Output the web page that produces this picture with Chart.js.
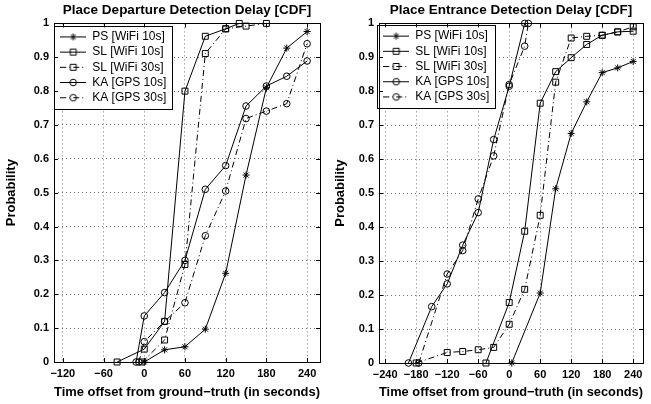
<!DOCTYPE html>
<html>
<head>
<meta charset="utf-8">
<script src="https://cdn.jsdelivr.net/npm/chart.js@4.4.1/dist/chart.umd.min.js"></script>
<style>
  html, body { margin: 0; padding: 0; background: #fff; }
  #wrap { position: relative; width: 651px; height: 404px; }
  canvas { position: absolute; top: 0; }
  #departure { left: 0; }
  #entrance { left: 326px; }
</style>
</head>
<body>
<div id="wrap">
  <canvas id="departure" width="326" height="404"></canvas>
  <canvas id="entrance" width="325" height="404"></canvas>
</div>
<script>
const seriesNames = ['PS [WiFi 10s]', 'SL [WiFi 10s]', 'SL [WiFi 30s]', 'KA [GPS 10s]', 'KA [GPS 30s]'];
const yTicks = [0, 0.1, 0.2, 0.3, 0.4, 0.5, 0.6, 0.7, 0.8, 0.9, 1];
const departureTicks = [-120, -60, 0, 60, 120, 180, 240];
const entranceTicks = [-240, -180, -120, -60, 0, 60, 120, 180, 240];

// place departure: offset in seconds / cumulative probability
const depPsX = [0, 30, 60, 90, 120, 150, 180, 210, 240];
const depPsY = [0, 0.036, 0.045, 0.097, 0.262, 0.552, 0.81, 0.927, 0.976];
const depSl10X = [-40, 0, 30, 60, 90, 120, 140];
const depSl10Y = [0, 0.038, 0.12, 0.80, 0.962, 0.984, 1.0];
const depSl30X = [-3, 30, 60, 90, 120, 150, 180];
const depSl30Y = [0, 0.065, 0.288, 0.911, 0.984, 0.992, 1.0];
const depKa10X = [-12, 0, 30, 60, 90, 120, 150, 180, 210, 240];
const depKa10Y = [0, 0.136, 0.205, 0.30, 0.51, 0.58, 0.756, 0.815, 0.844, 0.889];
const depKa30X = [-8, 0, 30, 60, 90, 120, 150, 180, 210, 240];
const depKa30Y = [0, 0.06, 0.12, 0.175, 0.373, 0.505, 0.719, 0.741, 0.763, 0.94];

// place entrance
const entPsX = [5, 60, 90, 120, 150, 180, 210, 240];
const entPsY = [0, 0.206, 0.513, 0.676, 0.769, 0.855, 0.869, 0.888];
const entSl10X = [-45, 0, 30, 60, 90, 120, 150, 180, 210, 240];
const entSl10Y = [0, 0.178, 0.388, 0.765, 0.858, 0.899, 0.938, 0.965, 0.975, 0.977];
const entSl30X = [-180, -120, -90, -60, -30, 0, 30, 60, 90, 120, 150, 180, 210, 240];
const entSl30Y = [0, 0.031, 0.034, 0.039, 0.046, 0.114, 0.217, 0.435, 0.827, 0.957, 0.962, 0.965, 0.975, 0.99];
const entKa10X = [-195, -150, -120, -90, -60, -30, 0, 30];
const entKa10Y = [0, 0.166, 0.233, 0.347, 0.443, 0.658, 0.815, 1.0];
const entKa30X = [-175, -120, -90, -60, -30, 0, 30, 37];
const entKa30Y = [0, 0.262, 0.331, 0.483, 0.61, 0.82, 0.933, 1.0];

const FONT = '"Liberation Sans", Arial, Helvetica, sans-serif';
const markers = ['star', 'rect', 'rect', 'circle', 'circle'];
const radii = { star: 3.5, rect: 4.2, circle: 3.3 };
const dashes = [[], [], [6, 3, 1, 3], [], [6, 3, 1, 3]];

// little line + marker sample for the legend
function legendIcon(i) {
  const c = document.createElement('canvas');
  c.width = 26; c.height = 11;
  const ctx = c.getContext('2d');
  ctx.strokeStyle = '#000';
  ctx.lineWidth = 1;
  ctx.setLineDash(dashes[i]);
  ctx.beginPath(); ctx.moveTo(0, 5.5); ctx.lineTo(26, 5.5); ctx.stroke();
  ctx.setLineDash([]);
  ctx.fillStyle = 'rgba(0,0,0,0)';
  Chart.helpers.drawPoint(ctx, { pointStyle: markers[i], radius: radii[markers[i]], borderWidth: 1 }, 13, 5.5);
  return c;
}
const icons = seriesNames.map((n, i) => legendIcon(i));

// box round the plot, inward ticks, legend frame
const frame = {
  id: 'frame',
  afterInit(chart) {
    const lg = chart.legend;
    const draw = lg.draw.bind(lg);
    lg.draw = function(area) {
      const hb = lg.legendHitBoxes;
      if (hb && hb.length) {
        const ctx = chart.ctx;
        const l = Math.round(hb[0].left - 6) + 0.5;
        const t = Math.round(hb[0].top - 5) + 0.5;
        const r = Math.round(Math.max(...hb.map(h => h.left + h.width)) + 6) + 0.5;
        const b = Math.round(hb[hb.length - 1].top + hb[hb.length - 1].height + 5) + 0.5;
        ctx.save();
        ctx.fillStyle = '#fff';
        ctx.fillRect(l, t, r - l, b - t);
        ctx.strokeStyle = '#000';
        ctx.lineWidth = 1;
        ctx.strokeRect(l, t, r - l, b - t);
        ctx.restore();
      }
      draw(area);
    };
  },
  afterLayout(chart, args, opts) {
    const lg = chart.legend, a = chart.chartArea;
    lg.left = a.left + opts.legendX;
    lg.top = a.top + opts.legendY;
    lg.right = lg.left + lg.width;
    lg.bottom = lg.top + lg.height;
  },
  beforeDatasetsDraw(chart) {
    const ctx = chart.ctx, a = chart.chartArea;
    const xs = chart.scales.x, ys = chart.scales.y;
    ctx.save();
    ctx.strokeStyle = '#000';
    ctx.lineWidth = 1;
    ctx.beginPath();
    xs.ticks.forEach(t => {
      const p = Math.round(xs.getPixelForValue(t.value)) + 0.5;
      ctx.moveTo(p, a.bottom); ctx.lineTo(p, a.bottom - 4);
      ctx.moveTo(p, a.top); ctx.lineTo(p, a.top + 4);
    });
    ys.ticks.forEach(t => {
      const p = Math.round(ys.getPixelForValue(t.value)) + 0.5;
      ctx.moveTo(a.left, p); ctx.lineTo(a.left + 4, p);
      ctx.moveTo(a.right, p); ctx.lineTo(a.right - 4, p);
    });
    ctx.stroke();
    ctx.strokeRect(Math.round(a.left) + 0.5, Math.round(a.top) + 0.5, Math.round(a.right - a.left), Math.round(a.bottom - a.top));
    ctx.restore();
  }
};

function makeDatasets(list) {
  return list.map((pair, i) => ({
    label: seriesNames[i],
    data: pair[0].map((x, j) => ({ x: x, y: pair[1][j] })),
    borderColor: '#000',
    borderWidth: 1,
    borderDash: dashes[i],
    pointStyle: markers[i],
    pointRadius: radii[markers[i]],
    pointBorderColor: '#000',
    pointBackgroundColor: 'rgba(0,0,0,0)',
    pointBorderWidth: 1,
    fill: false,
    tension: 0,
    clip: false
  }));
}

const minus = v => v < 0 ? '\u2212' + Math.abs(v) : String(v);

function drawChart(id, cfg) {
  return new Chart(document.getElementById(id), {
    type: 'line',
    data: { datasets: makeDatasets(cfg.series) },
    options: {
      responsive: false,
      animation: false,
      devicePixelRatio: 1,
      layout: { padding: { left: 0, right: cfg.padRight, top: 0, bottom: 0 } },
      plugins: {
        title: {
          display: true, text: cfg.title, fullSize: false, color: '#000',
          font: { family: FONT, size: 13.5, weight: 'bold' },
          padding: { top: 2, bottom: 5.2 }
        },
        legend: {
          position: 'chartArea',
          align: 'start',
          labels: {
            usePointStyle: true,
            pointStyleWidth: 26,
            padding: 3.2,
            color: '#000',
            font: { family: FONT, size: 12 },
            generateLabels(chart) {
              const items = Chart.defaults.plugins.legend.labels.generateLabels(chart);
              items.forEach((it, i) => { it.pointStyle = icons[i]; });
              return items;
            }
          }
        },
        tooltip: { enabled: false },
        frame: { legendX: cfg.legendX, legendY: cfg.legendY }
      },
      scales: {
        x: {
          type: 'linear',
          min: cfg.xMin,
          max: cfg.xMax,
          afterBuildTicks: s => { s.ticks = cfg.xTicks.map(v => ({ value: v })); },
          afterFit: s => { s.height = cfg.xHeight; },
          ticks: {
            callback: v => minus(v), color: '#000', padding: 5, maxRotation: 0, autoSkip: false,
            font: { family: FONT, size: 11, weight: 'bold' }
          },
          grid: { color: 'rgba(0,0,0,0.55)', drawTicks: false },
          border: { display: false, dash: [1, 3] },
          title: {
            display: true, text: 'Time offset from ground\u2212truth (in seconds)', color: '#000',
            font: { family: FONT, size: 13, weight: 'bold' },
            padding: { top: 0, bottom: 4 }
          }
        },
        y: {
          min: 0,
          max: 1,
          afterBuildTicks: s => { s.ticks = yTicks.map(v => ({ value: v })); },
          afterFit: s => { s.width = cfg.yWidth; },
          ticks: {
            callback: v => String(v), color: '#000', padding: 5,
            font: { family: FONT, size: 11, weight: 'bold' }
          },
          grid: { color: 'rgba(0,0,0,0.55)', drawTicks: false },
          border: { display: false, dash: [1, 3] },
          title: {
            display: true, text: 'Probability', color: '#000',
            font: { family: FONT, size: 13, weight: 'bold' },
            padding: { top: cfg.yTitlePad, bottom: 0 }
          }
        }
      }
    },
    plugins: [frame]
  });
}

drawChart('departure', {
  title: 'Place Departure Detection Delay [CDF]',
  series: [[depPsX, depPsY], [depSl10X, depSl10Y], [depSl30X, depSl30Y], [depKa10X, depKa10Y], [depKa30X, depKa30Y]],
  xMin: -133, xMax: 259, xTicks: departureTicks,
  yWidth: 54, yTitlePad: 4, padRight: 6, xHeight: 42,
  legendX: 3, legendY: 4.3
});

drawChart('entrance', {
  title: 'Place Entrance Detection Delay [CDF]',
  series: [[entPsX, entPsY], [entSl10X, entSl10Y], [entSl30X, entSl30Y], [entKa10X, entKa10Y], [entKa30X, entKa30Y]],
  xMin: -252, xMax: 259, xTicks: entranceTicks,
  yWidth: 53, yTitlePad: 7, padRight: 8, xHeight: 41,
  legendX: 1, legendY: 3.5
});
</script>
</body>
</html>
